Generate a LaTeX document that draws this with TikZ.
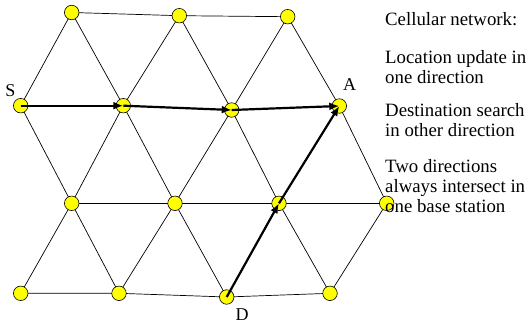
\documentclass[tikz,border=0pt]{standalone}
\usepackage{fontspec}
\setmainfont{Liberation Serif}
\usetikzlibrary{arrows.meta,backgrounds}
\definecolor{cellyellow}{RGB}{255,255,0}

\begin{document}
\begin{tikzpicture}[x=1pt, y=-1pt,
    bs/.style={circle, draw=black, fill=cellyellow, line width=0.6pt, minimum size=14.5pt, inner sep=0pt},
    link/.style={line width=0.7pt},
    route/.style={->, line width=2.2pt},
    lbl/.style={font=\fontsize{18}{20}\selectfont, inner sep=0pt, anchor=base},
    note/.style={font=\fontsize{18.8}{20}\selectfont, inner sep=0pt, align=left, anchor=base west},
    >={Latex[length=10pt, width=8pt]}
]
\useasboundingbox (0,0) rectangle (529,323);
% base stations
\node[bs] (t1) at (71.7,12.5) {};
\node[bs] (t2) at (179.3,15.7) {};
\node[bs] (t3) at (287.7,16.7) {};
\node[bs] (s) at (20.7,105.7) {};
\node[bs] (m2) at (123.3,105.7) {};
\node[bs] (m3) at (231.7,110) {};
\node[bs] (a) at (339.3,106) {};
\node[bs] (r1) at (71.7,203.3) {};
\node[bs] (r2) at (175,203.3) {};
\node[bs] (r3) at (279,203.3) {};
\node[bs] (r4) at (386.7,203.3) {};
\node[bs] (b1) at (20.7,293.3) {};
\node[bs] (b2) at (119,293.3) {};
\node[bs] (d) at (226.7,297) {};
\node[bs] (b4) at (330,293.3) {};
% grid links
\begin{scope}[on background layer]
\draw[link] (t1.center) -- (t2.center) -- (t3.center);
\draw[link] (s.center) -- (m2.center) -- (m3.center) -- (a.center);
\draw[link] (r1.center) -- (r2.center) -- (r3.center) -- (r4.center);
\draw[link] (b1.center) -- (b2.center) -- (d.center) -- (b4.center);
\draw[link] (s.center) -- (t1.center) -- (m2.center) -- (t2.center) -- (m3.center) -- (t3.center) -- (a.center);
\draw[link] (s.center) -- (r1.center) -- (m2.center) -- (r2.center) -- (m3.center) -- (r3.center) -- (a.center) -- (r4.center);
\draw[link] (b1.center) -- (r1.center) -- (b2.center) -- (r2.center) -- (d.center) -- (r3.center) -- (b4.center) -- (r4.center);
\end{scope}
% update and search paths
\draw[route] (s.center) -- (m2.center);
\draw[route] (m2.center) -- (m3.center);
\draw[route] (m3.center) -- (a.center);
\draw[route] (d.center) -- (r3.center);
\draw[route] (r3.center) -- (a.center);
% labels
\node[lbl] (slabel) at (10.5,97) {S};
\node[lbl] (alabel) at (349.5,91) {A};
\node[lbl] (dlabel) at (242,320) {D};
\node[note] (title) at (385,26) {Cellular network:};
\node[note] (update) at (385,84) {Location update in\\one direction};
\node[note] (search) at (385,136) {Destination search\\in other direction};
\node[note] (meet) at (385,212) {Two directions\\always intersect in\\one base station};
\end{tikzpicture}
\end{document}
